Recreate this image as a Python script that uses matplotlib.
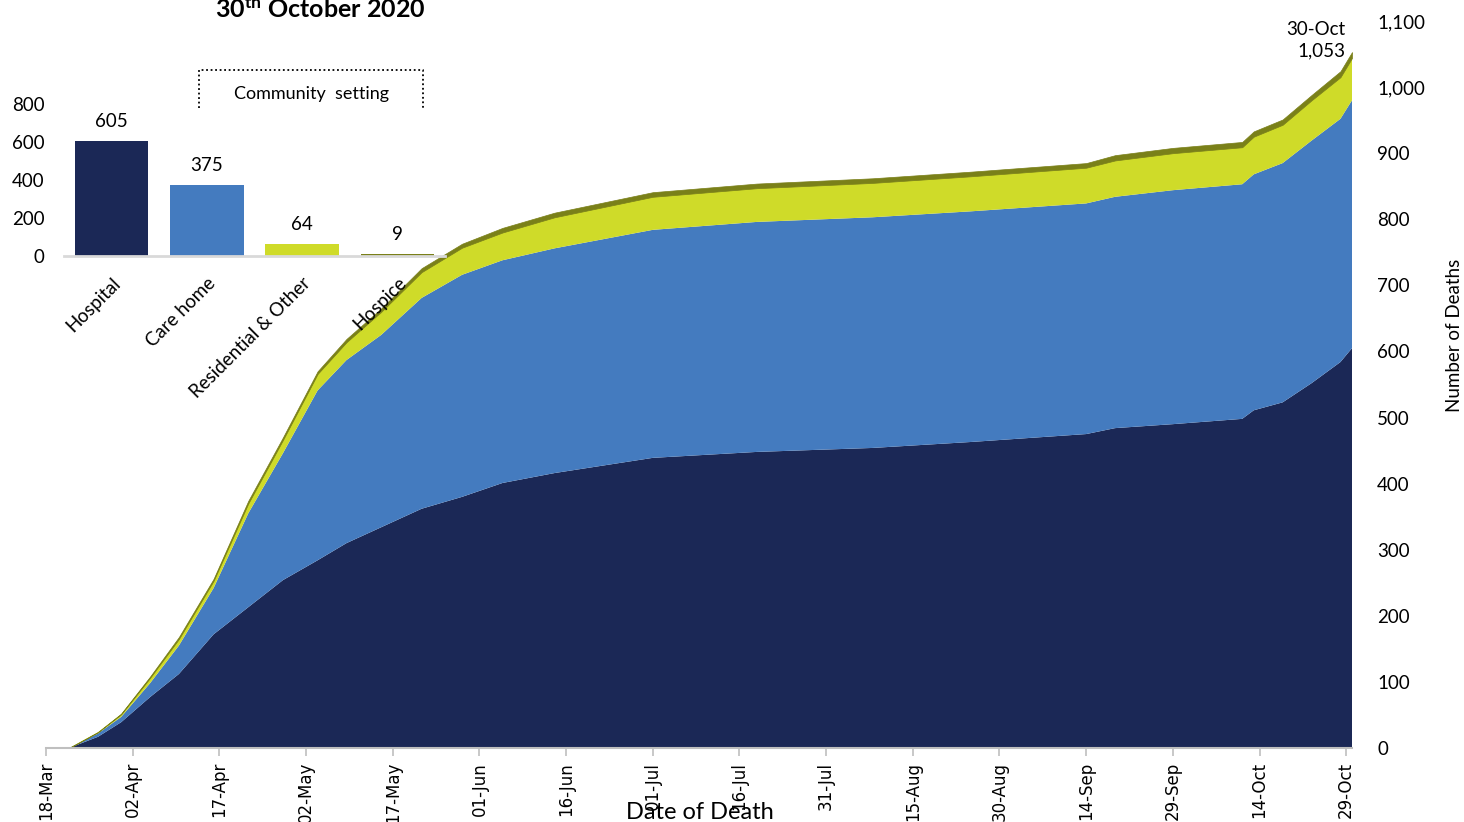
import matplotlib
matplotlib.use("Agg")
import matplotlib.pyplot as plt
import matplotlib.dates as mdates
import pandas as pd
import numpy as np

# ---------- data ----------
dates = ["2020-03-22", "2020-03-27", "2020-03-31", "2020-04-05", "2020-04-10",
         "2020-04-16", "2020-04-22", "2020-04-28", "2020-05-04", "2020-05-09",
         "2020-05-15", "2020-05-22", "2020-05-29", "2020-06-05", "2020-06-14",
         "2020-07-01", "2020-07-19", "2020-08-08", "2020-08-25", "2020-09-14",
         "2020-09-19", "2020-09-29", "2020-10-11", "2020-10-13", "2020-10-18",
         "2020-10-23", "2020-10-28", "2020-10-30"]

# cumulative deaths by place of death
hospital = [0, 17, 39, 77, 112, 172, 213, 254, 284, 310, 334, 362, 380, 401, 416,
            439, 448, 454, 463, 475, 484, 490, 498, 511, 523, 552, 584, 605]
care_home = [0, 5, 8, 21, 43, 70, 142, 192, 257, 277, 291, 319, 336, 337, 340,
             345, 348, 349, 349, 349, 350, 354, 355, 357, 362, 367, 368, 375]
residential = [0, 2, 4, 8, 10, 11, 15, 20, 25, 27, 35, 39, 41, 42, 47,
               50, 51, 52, 53, 54, 55, 56, 56, 57, 58, 61, 63, 64]
hospice = [0, 0, 1, 2, 3, 3, 4, 4, 4, 5, 5, 6, 6, 7, 7,
           7, 7, 7, 7, 7, 8, 8, 8, 8, 8, 8, 9, 9]

places = ["Hospital", "Care home", "Residential & Other", "Hospice"]
totals = [605, 375, 64, 9]
colors = ["#1b2856", "#447bbf", "#cfdb29", "#7a8019"]

plt.rcParams["font.family"] = "Lato"
plt.rcParams["mathtext.fontset"] = "custom"
plt.rcParams["mathtext.bf"] = "Lato:bold"
plt.rcParams["mathtext.rm"] = "Lato"

W, H = 1464, 822
fig = plt.figure(figsize=(W / 100, H / 100), dpi=100)

# ---------- main cumulative area chart ----------
ax = fig.add_axes([46 / W, 1 - 748 / H, (1352 - 46) / W, (748 - 21) / H])
x = pd.to_datetime(dates)
polys = ax.stackplot(x, hospital, care_home, residential, hospice,
                     colors=colors, linewidth=0)
polys[3].set_edgecolor(colors[3])
polys[3].set_linewidth(0.5)

ax.set_xlim(pd.Timestamp("2020-03-18"), pd.Timestamp("2020-10-30"))
ax.set_ylim(0, 1100)
ticks = pd.date_range("2020-03-18", "2020-10-29", freq="15D")
ax.set_xticks(ticks)
ax.xaxis.set_major_formatter(mdates.DateFormatter("%d-%b"))
ax.tick_params(axis="x", direction="out", length=6, color="#bfbfbf", width=1.2,
               labelsize=12, rotation=90, pad=4)
for lbl in ax.get_xticklabels():
    lbl.set_fontfamily("DejaVu Sans")

ax.yaxis.tick_right()
ax.set_yticks(np.arange(0, 1101, 100))
ax.set_yticklabels([f"{v:,}" for v in range(0, 1101, 100)])
ax.tick_params(axis="y", length=0, labelsize=13.5, pad=18)

for s in ["top", "left", "right"]:
    ax.spines[s].set_visible(False)
ax.spines["bottom"].set_color("#bfbfbf")
ax.spines["bottom"].set_linewidth(1.5)

ax.text(1345 / W, 1 - 40 / H, "30-Oct\n1,053", transform=fig.transFigure,
        ha="right", va="center", fontsize=13.5, linespacing=1.3)

fig.text(1455 / W, 1 - 335 / H, "Number of Deaths", rotation=90,
         ha="center", va="center", fontsize=13.5)
fig.text(700 / W, 1 - 812 / H, "Date of Death", ha="center", va="center",
         fontsize=17)
fig.text(320 / W, 1 - 9 / H, r"$\mathbf{30^{th}}$ October 2020", ha="center",
         va="center", fontsize=18, fontweight="bold")

# ---------- inset bar chart ----------
ax2 = fig.add_axes([64 / W, 1 - 256 / H, 381 / W, 152 / H])
ax2.set_facecolor("none")
bars = ax2.bar(range(len(places)), totals, width=0.77, color=colors)
ax2.set_xlim(-0.5, 3.5)
ax2.set_ylim(0, 800)
ax2.set_yticks([0, 200, 400, 600, 800])
ax2.tick_params(axis="y", length=0, labelsize=13.5, pad=14)
ax2.set_xticks(range(len(places)))
ax2.set_xticklabels(places, rotation=45, ha="right", rotation_mode="anchor",
                    fontsize=13.5)
ax2.tick_params(axis="x", length=0, pad=13)
for s in ["top", "left", "right"]:
    ax2.spines[s].set_visible(False)
ax2.spines["bottom"].set_color("#d9d9d9")
ax2.spines["bottom"].set_linewidth(2)
for b, v in zip(bars, totals):
    ax2.annotate(str(v), (b.get_x() + b.get_width() / 2, v), xytext=(0, 8),
                 textcoords="offset points", ha="center", va="bottom",
                 fontsize=13.5)

# dotted "Community setting" bracket
fig.add_artist(plt.Line2D([199 / W, 199 / W, 423 / W, 423 / W],
                          [1 - 108 / H, 1 - 70 / H, 1 - 70 / H, 1 - 108 / H],
                          color="black", linestyle=(0, (1, 1.5)), linewidth=1.3))
fig.text(311 / W, 1 - 94 / H, "Community  setting", ha="center", va="center",
         fontsize=13)

fig.savefig("out.png", dpi=100)
